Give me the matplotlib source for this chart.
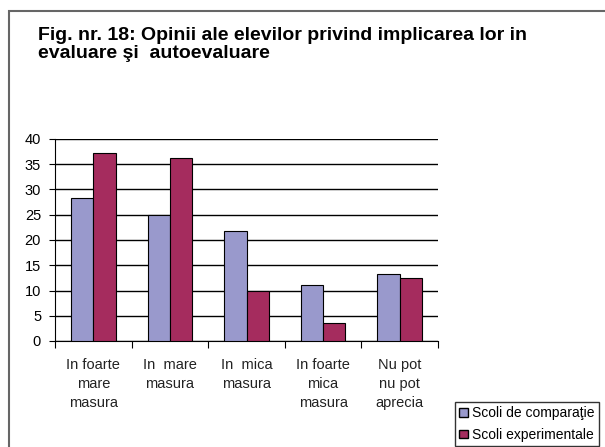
import matplotlib
matplotlib.use("Agg")
import matplotlib.pyplot as plt
from matplotlib.patches import Patch, Rectangle
import numpy as np

plt.rcParams['font.family'] = ['Liberation Sans', 'DejaVu Sans']

categories = ["In foarte\nmare\nmasura", "In  mare\nmasura", "In  mica\nmasura",
              "In foarte\nmica\nmasura", "Nu pot\nnu pot\naprecia"]
series_names = ["Scoli de comparaţie", "Scoli experimentale"]
comparatie = [28.4, 24.9, 21.8, 11.1, 13.3]
experimentale = [37.3, 36.2, 9.9, 3.6, 12.5]
yticks = [0, 5, 10, 15, 20, 25, 30, 35, 40]

W, H = 605, 447
fig = plt.figure(figsize=(W / 100, H / 100), dpi=100)

# outer border (chart area frame, runs off right/bottom)
fig.patches.append(Rectangle((9 / W, -0.1), 1.2, (H - 11) / H + 0.1, transform=fig.transFigure,
                             fill=False, edgecolor='#666666', linewidth=1.5))

fig.text(38 / W, 1 - 27 / H, "Fig. nr. 18: Opinii ale elevilor privind implicarea lor in\nevaluare şi  autoevaluare",
         fontsize=14, fontweight='bold', ha='left', va='top', linespacing=1.1)

ax = fig.add_axes([55 / W, 1 - 341 / H, (438 - 55) / W, (341 - 139) / H])
x = np.arange(len(categories))
bw = 0.29
c1, c2 = '#9999CC', '#A52C5E'
ax.bar(x - bw / 2, comparatie, bw, color=c1, edgecolor='black', linewidth=0.8, zorder=3)
ax.bar(x + bw / 2, experimentale, bw, color=c2, edgecolor='black', linewidth=0.8, zorder=3)

ax.set_xlim(-0.5, len(categories) - 0.5)
ax.set_ylim(0, 40)
ax.set_yticks(yticks)
ax.yaxis.grid(True, color='black', linewidth=1.0, zorder=0)
ax.set_axisbelow(True)
for s in ['top', 'right']:
    ax.spines[s].set_visible(False)
ax.spines['left'].set_color('black')
ax.spines['bottom'].set_color('black')
ax.tick_params(axis='y', direction='out', length=4, labelsize=10.5, pad=6)
ax.set_xticks(np.arange(len(categories) + 1) - 0.5)
ax.set_xticklabels([])
ax.tick_params(axis='x', direction='out', length=5)
for i, lab in enumerate(categories):
    ax.text(i, -3.3, lab, ha='center', va='top', fontsize=10.5, linespacing=1.45,
            transform=ax.transData, color='#222222')

handles = [Patch(facecolor=c1, edgecolor='black'), Patch(facecolor=c2, edgecolor='black')]
leg = fig.legend(handles, series_names, loc='upper left', bbox_to_anchor=(455 / W, 1 - 402 / H),
                 fontsize=10, frameon=True, fancybox=False, edgecolor='black',
                 handlelength=0.6, handleheight=0.6, handletextpad=0.35,
                 borderpad=0.3, labelspacing=0.55, borderaxespad=0)
leg.get_frame().set_linewidth(1.0)

fig.savefig("out.png", dpi=100)
